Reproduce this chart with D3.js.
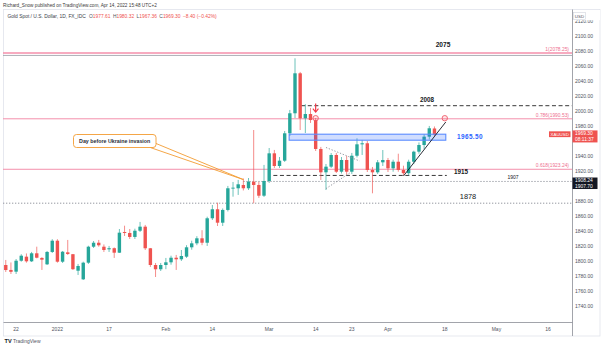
<!DOCTYPE html>
<html><head><meta charset="utf-8">
<script src="https://cdn.jsdelivr.net/npm/d3@7"></script>
<style>html,body{margin:0;padding:0;background:#fff;}svg{display:block;font-family:"Liberation Sans",Arial,sans-serif;}</style>
</head><body><svg id="c" width="602" height="347"></svg>
<script>
// ---------- data ----------
const candleDates = ["2021-12-20","2021-12-21","2021-12-22","2021-12-23","2021-12-24","2021-12-27","2021-12-28","2021-12-29","2021-12-30","2021-12-31",
"2022-01-03","2022-01-04","2022-01-05","2022-01-06","2022-01-07","2022-01-10","2022-01-11","2022-01-12","2022-01-13","2022-01-14",
"2022-01-17","2022-01-18","2022-01-19","2022-01-20","2022-01-21","2022-01-24","2022-01-25","2022-01-26","2022-01-27","2022-01-28",
"2022-01-31","2022-02-01","2022-02-02","2022-02-03","2022-02-04","2022-02-07","2022-02-08","2022-02-09","2022-02-10","2022-02-11",
"2022-02-14","2022-02-15","2022-02-16","2022-02-17","2022-02-18","2022-02-21","2022-02-22","2022-02-23","2022-02-24","2022-02-25",
"2022-02-28","2022-03-01","2022-03-02","2022-03-03","2022-03-04","2022-03-07","2022-03-08","2022-03-09","2022-03-10","2022-03-11",
"2022-03-14","2022-03-15","2022-03-16","2022-03-17","2022-03-18","2022-03-21","2022-03-22","2022-03-23","2022-03-24","2022-03-25",
"2022-03-28","2022-03-29","2022-03-30","2022-03-31","2022-04-01","2022-04-04","2022-04-05","2022-04-06","2022-04-07","2022-04-08",
"2022-04-11","2022-04-12","2022-04-13","2022-04-14"];
const openP = [1795.6,1789,1786.7,1801.3,1806.7,1800.5,1811.2,1805,1796.5,1813,
1828,1800,1812.5,1810,1788,1776.5,1798.7,1820,1825.3,1820,
1816.5,1818,1812,1839.6,1838.3,1833,1841.3,1846.7,1817.9,1795.6,
1789.9,1795.6,1799.2,1805.3,1803.2,1806.7,1819.2,1824.5,1831.2,1825.3,
1857.9,1869.9,1852,1869,1897.9,1897.9,1902.3,1897.9,1906.7,1902.3,
1888,1907.6,1944.5,1927.6,1934.7,1971.2,1997.9,2051.2,1991.2,1996.9,
1988.9,1950.3,1919.2,1926.7,1942.3,1920,1935.6,1920,1941.3,1956.5,
1957.9,1922.3,1919.2,1932.5,1935.6,1924.5,1933.3,1922.3,1918,1933.3,
1946.7,1955.6,1966.7,1977.61];
const highP = [1802.3,1799,1803.6,1810,1811,1813,1820,1806,1814.3,1830,
1830,1814.3,1829,1810.3,1797,1800,1821.3,1827.6,1829,1823,
1821,1819,1843.6,1848,1843.6,1844,1853,1849,1818.3,1798.3,
1798.3,1805,1808,1809,1815.6,1822,1828,1834,1842,1860,
1875.6,1878.7,1871,1901,1906.3,1909,1911,1911.6,1975.6,1906.3,
1929,1951.6,1949,1939.6,1974.3,2002.3,2071.2,2053,2010,2005,
1991.6,1953,1930.3,1944.9,1945,1939.6,1941,1945,1964.5,1962.3,
1961,1926.3,1935.6,1948.9,1938.3,1936,1944,1928,1936,1948,
1959,1970,1981,1980.32];
const lowP = [1786.3,1783.6,1783.6,1800,1798.7,1799.6,1804.5,1789,1795.6,1811.6,
1798.7,1798.3,1809,1789,1782.3,1775.6,1797,1818.3,1820,1813,
1813,1805,1811.6,1834.3,1830.3,1830.3,1839.6,1815.6,1793,1779.6,
1787.6,1790,1796,1789,1801,1805,1816,1822,1822,1821,
1855.6,1847.6,1847.6,1867,1886.7,1889,1895,1895.6,1877.9,1885,
1886.3,1905,1925,1925,1933,1967.6,1991.6,1975.6,1971.6,1985,
1947.6,1909,1895.6,1925,1918.3,1917.6,1916,1917,1939,1942.3,
1919.6,1891.2,1917,1927.6,1919.6,1920,1920,1915,1915,1930,
1944,1950,1963,1967.36];
const closeP = [1788.9,1786.5,1801.3,1808,1800.5,1811.2,1805.3,1802.7,1813,1828,
1800,1813.3,1810.3,1790,1794.3,1798.7,1820,1825.3,1821.9,1815.6,
1818,1812,1838.7,1838.3,1833,1841.3,1846.7,1817.9,1795.6,1789.9,
1795.6,1799.2,1805.3,1803.2,1807.6,1819.2,1824.5,1831.2,1825.3,1857.9,
1869.9,1852,1869,1897.9,1898.7,1903.2,1897.9,1906.7,1902.3,1888,
1907.6,1944.5,1927.6,1934.7,1971.2,1997.9,2051.2,1991.2,1996.9,1988.9,
1950.3,1919.2,1926.7,1942.3,1920,1935.6,1920,1941.3,1956.5,1957.9,
1922.3,1919.2,1932.5,1935.6,1924.5,1933.3,1922.3,1918,1933.3,1946.7,
1955.6,1966.7,1977.9,1969.30];

const yTicks = [1740,1760,1780,1800,1820,1840,1860,1880,1900,1920,1940,1960,1980,2000,2020,2040,2060,2080,2100,2120];
const xTickDates = ["2021-12-22","2022-01-03","2022-01-17","2022-02-01","2022-02-14","2022-03-01","2022-03-14","2022-03-23","2022-04-01","2022-04-18","2022-05-02","2022-05-16"];
const xTickLabels = ["22","2022","17","Feb","14","Mar","14","23","Apr","18","May","16"];

const fibNames = ["1(2078.25)","0.786(1990.53)","0.618(1923.24)"];
const fibPrices = [2078.25,1990.53,1923.24];

const zoneLow = 1962, zoneHigh = 1970, zoneLabel = "1965.50";
const lastPrice = 1969.30, lastTimer = "08:11:37";
const boxLevels = [1908.24, 1907.70];

// ---------- layout ----------
const W = 602, H = 347;
const pane = {l:3, t:10, r:572, b:322};
const fmt = d3.timeFormat("%Y-%m-%d");
const allDays = d3.timeDay.range(new Date(2021,11,17), new Date(2022,4,31))
  .filter(d => d.getDay() !== 0 && d.getDay() !== 6).map(fmt);
const step = 5.165;
const x = d3.scalePoint().domain(allDays).range([0.6, 0.6 + step*(allDays.length-1)]);
const xi = i => 0.6 + step*i;
const idx = s => allDays.indexOf(s);
const y = d3.scaleLinear().domain([1740, 2100]).range([306.7, 36.7]);

const svg = d3.select("#c");
svg.append("rect").attr("width",W).attr("height",H).attr("fill","#fff");

const defs = svg.append("defs");
defs.append("clipPath").attr("id","pc").append("rect")
  .attr("x",pane.l).attr("y",pane.t).attr("width",pane.r-pane.l).attr("height",pane.b-pane.t);

// header
svg.append("text").attr("x",3).attr("y",6.6).attr("font-size",4.7).attr("fill","#3a3a3a")
  .text("Richard_Snow published on TradingView.com, Apr 14, 2022 15:48 UTC+2");
const lg = svg.append("text").attr("x",7.5).attr("y",17.7).attr("font-size",4.9).attr("fill","#3a3e4a");
lg.append("tspan").text("Gold Spot / U.S. Dollar, 1D, FX_IDC");
const ohlc = [["O","1977.61"],["H","1980.32"],["L","1967.36"],["C","1969.30"]];
ohlc.forEach((p,i)=>{
  lg.append("tspan").attr("dx", i===0?3.2:2.4).attr("fill","#50535e").text(p[0]);
  lg.append("tspan").attr("fill","#ef5350").text(p[1]);
});
lg.append("tspan").attr("dx",2.4).attr("fill","#ef5350").text("\u22128.40 (\u22120.42%)");

// frame & axes lines
svg.append("rect").attr("x",3.5).attr("y",9.5).attr("width",596.5).attr("height",326.5)
  .attr("fill","none").attr("stroke","#e0e3eb").attr("stroke-width",0.8);
svg.append("line").attr("x1",pane.r+0.5).attr("x2",pane.r+0.5).attr("y1",9.5).attr("y2",336)
  .attr("stroke","#8a8d96").attr("stroke-width",0.8);
svg.append("line").attr("x1",3.5).attr("x2",pane.r+0.5).attr("y1",pane.b+0.5).attr("y2",pane.b+0.5)
  .attr("stroke","#8a8d96").attr("stroke-width",0.8);

const g = svg.append("g").attr("clip-path","url(#pc)");

// fib lines
const fibColor = "#f48fab";
fibPrices.forEach((p,i)=>{
  g.append("line").attr("x1",pane.l).attr("x2",pane.r).attr("y1",y(p)).attr("y2",y(p))
    .attr("stroke",fibColor).attr("stroke-width", i===0?1.3:1);
  g.append("text").attr("x",569).attr("y",y(p)-1.8).attr("text-anchor","end")
    .attr("font-size",4.9).attr("fill","#ee6f8f").text(fibNames[i]);
});
// 2075 solid line
g.append("line").attr("x1",pane.l).attr("x2",pane.r).attr("y1",y(2075)).attr("y2",y(2075))
  .attr("stroke","#9a9ca5").attr("stroke-width",0.8);
g.append("text").attr("x",443).attr("y",y(2075)-8).attr("text-anchor","middle")
  .attr("font-size",6.6).attr("font-weight","bold").attr("fill","#131722").text("2075");

// 2008 dashed
g.append("line").attr("x1",xi(idx("2022-03-09"))+1).attr("x2",pane.r).attr("y1",y(2008)).attr("y2",y(2008))
  .attr("stroke","#222").attr("stroke-width",0.9).attr("stroke-dasharray","4,2.6");
g.append("text").attr("x",427).attr("y",y(2008)-4).attr("text-anchor","middle")
  .attr("font-size",6.3).attr("font-weight","bold").attr("fill","#131722").text("2008");

// 1878 dotted
g.append("line").attr("x1",pane.l).attr("x2",pane.r).attr("y1",y(1878)).attr("y2",y(1878))
  .attr("stroke","#8a8d96").attr("stroke-width",0.9).attr("stroke-dasharray","1.3,1.7");
g.append("text").attr("x",468).attr("y",y(1878)-4).attr("text-anchor","middle")
  .attr("font-size",7.4).attr("fill","#131722").text("1878");

// 1907 dotted
g.append("line").attr("x1",x("2022-02-22")).attr("x2",pane.r).attr("y1",y(1907)).attr("y2",y(1907))
  .attr("stroke","#8a8d96").attr("stroke-width",0.9).attr("stroke-dasharray","1.3,1.7");
g.append("text").attr("x",513).attr("y",y(1907)-2.5).attr("text-anchor","middle")
  .attr("font-size",5).attr("fill","#131722").text("1907");

// 1915 dashed
g.append("line").attr("x1",x("2022-03-02")-1).attr("x2",x("2022-04-18")+2).attr("y1",y(1915)).attr("y2",y(1915))
  .attr("stroke","#222").attr("stroke-width",0.9).attr("stroke-dasharray","4,2.6");
g.append("text").attr("x",461).attr("y",y(1915)-1.5).attr("text-anchor","middle")
  .attr("font-size",6.3).attr("font-weight","bold").attr("fill","#131722").text("1915");

// candles
const candles = candleDates.map((d,i)=>({d, o:openP[i], h:highP[i], l:lowP[i], c:closeP[i]}));
const up = "#26a69a", dn = "#ef5350";
const bw = 3.4;
g.selectAll("line.wick").data(candles).join("line").attr("class","wick")
  .attr("x1",d=>x(d.d)).attr("x2",d=>x(d.d)).attr("y1",d=>y(d.h)).attr("y2",d=>y(d.l))
  .attr("stroke",d=>d.c>=d.o?up:dn).attr("stroke-width",0.9).attr("stroke-opacity",0.75);
g.selectAll("rect.body").data(candles).join("rect").attr("class","body")
  .attr("x",d=>x(d.d)-bw/2).attr("width",bw)
  .attr("y",d=>y(Math.max(d.o,d.c))).attr("height",d=>Math.max(0.9, Math.abs(y(d.o)-y(d.c))))
  .attr("fill",d=>d.c>=d.o?up:dn);

// wedge dotted lines
const wedge = [
  [[idx("2022-03-16"),1952.3],[idx("2022-03-24")+0.5,1934.3]],
  [[idx("2022-03-16"),1897.5],[idx("2022-03-22")+0.6,1918.3]]
];
wedge.forEach(s=>{
  g.append("line").attr("x1",xi(s[0][0])).attr("y1",y(s[0][1])).attr("x2",xi(s[1][0])).attr("y2",y(s[1][1]))
    .attr("stroke","#8a8d96").attr("stroke-width",0.9).attr("stroke-dasharray","1.3,1.7");
});

// blue zone
g.append("rect").attr("x",x("2022-03-07")-0.7).attr("width",x("2022-04-18")+1-(x("2022-03-07")-0.7))
  .attr("y",y(zoneHigh)).attr("height",y(zoneLow)-y(zoneHigh))
  .attr("fill","rgba(41,98,255,0.22)").attr("stroke","#5b8cff").attr("stroke-width",1.1);
g.append("text").attr("x",470).attr("y",y((zoneLow+zoneHigh)/2)+2.2).attr("text-anchor","middle")
  .attr("font-size",6.4).attr("font-weight","bold").attr("letter-spacing",0.4).attr("fill","#2962ff").text(zoneLabel);

// black trend line
g.append("line").attr("x1",x("2022-04-06")).attr("y1",y(1914.3)).attr("x2",x("2022-04-18")+1).attr("y2",y(1986.3))
  .attr("stroke","#131722").attr("stroke-width",0.9);

// circles on 0.786
["2022-03-14","2022-04-18"].forEach(c=>{
  g.append("circle").attr("cx",x(c)).attr("cy",y(1990.53)-0.6).attr("r",2.7)
    .attr("fill","rgba(242,54,69,0.12)").attr("stroke","#f05a6a").attr("stroke-width",0.9);
});
// red down arrow
const ax = x("2022-03-14");
g.append("path").attr("d",`M${ax},${y(2011)} L${ax},${y(2000)}`).attr("stroke","#f23645").attr("stroke-width",1.2);
g.append("path").attr("d",`M${ax-2.8},${y(2004)} L${ax},${y(1999.5)} L${ax+2.8},${y(2004)}`)
  .attr("fill","none").attr("stroke","#f23645").attr("stroke-width",1.1);

// callout
const tipX = x("2022-02-22"), tipY = y(1909.5);
g.append("path").attr("d",`M150.5,147.6 L${tipX},${tipY} L155.8,143.4`)
  .attr("fill","none").attr("stroke","#f39c32").attr("stroke-width",0.9);
g.append("rect").attr("x",73.5).attr("y",134.5).attr("width",82.5).attr("height",13).attr("rx",3)
  .attr("fill","#fff").attr("stroke","#f39c32").attr("stroke-width",0.9);
g.append("text").attr("x",114.7).attr("y",142.8).attr("text-anchor","middle")
  .attr("font-size",5.3).attr("font-weight","bold").attr("fill","#2a2e39").text("Day before Ukraine invasion");

// right axis labels (hide those covered by the price / level boxes, as on the reference)
const py = y(lastPrice);
const pbTop = py-4.3, pbBot = py+7.7;
const bbTop = y(boxLevels[0])-3, bbBot = y(boxLevels[0])+8.5;
const visibleTicks = yTicks.filter(v=>{
  const ty = y(v);
  const hit = (a,b)=> ty+2.5 > a && ty-2.5 < b;
  return !hit(pbTop,pbBot) && !hit(bbTop,bbBot);
});
svg.append("g").selectAll("text").data(visibleTicks).join("text")
  .attr("x",575).attr("y",d=>y(d)+1.7).attr("font-size",5).attr("fill","#50535e")
  .text(d=>d3.format(".2f")(d));
// USD box
svg.append("rect").attr("x",573).attr("y",10).attr("width",27).attr("height",10.2).attr("fill","#fff");
svg.append("rect").attr("x",573.5).attr("y",12.5).attr("width",12).attr("height",7).attr("fill","#fff")
  .attr("stroke","#d1d4dc").attr("stroke-width",0.6);
svg.append("text").attr("x",579.5).attr("y",17.6).attr("text-anchor","middle").attr("font-size",4.4)
  .attr("fill","#50535e").text("USD");

// last price labels
svg.append("rect").attr("x",549).attr("y",py-3.4).attr("width",21.5).attr("height",5.8).attr("fill","#ef5350");
svg.append("text").attr("x",559.7).attr("y",py+1.2).attr("text-anchor","middle").attr("font-size",4.4)
  .attr("fill","#fff").text("XAUUSD");
svg.append("rect").attr("x",572.5).attr("y",pbTop).attr("width",25).attr("height",pbBot-pbTop).attr("fill","#ef5350");
svg.append("text").attr("x",575).attr("y",py+0.5).attr("font-size",4.9).attr("fill","#fff").text(d3.format(".2f")(lastPrice));
svg.append("text").attr("x",575).attr("y",py+6.3).attr("font-size",4.9).attr("fill","#fff").text(lastTimer);

// black level labels
svg.append("rect").attr("x",572.5).attr("y",bbTop).attr("width",25).attr("height",bbBot-bbTop).attr("fill","#131722");
boxLevels.forEach((v,i)=>{
  svg.append("text").attr("x",575).attr("y",y(boxLevels[0])+1.2+i*6.2).attr("font-size",4.9).attr("fill","#fff").text(d3.format(".2f")(v));
});

// time axis labels
svg.append("g").selectAll("text").data(xTickDates).join("text")
  .attr("x",d=>x(d)).attr("y",331.3).attr("text-anchor","middle").attr("font-size",5).attr("fill","#50535e")
  .text((d,i)=>xTickLabels[i]);

// TradingView logo
svg.append("text").attr("x",4.5).attr("y",343.2).attr("font-size",5.6).attr("font-weight","bold").attr("fill","#131722").text("TV");
svg.append("text").attr("x",13).attr("y",343.2).attr("font-size",5).attr("fill","#50535e").text("TradingView");
</script></body></html>
